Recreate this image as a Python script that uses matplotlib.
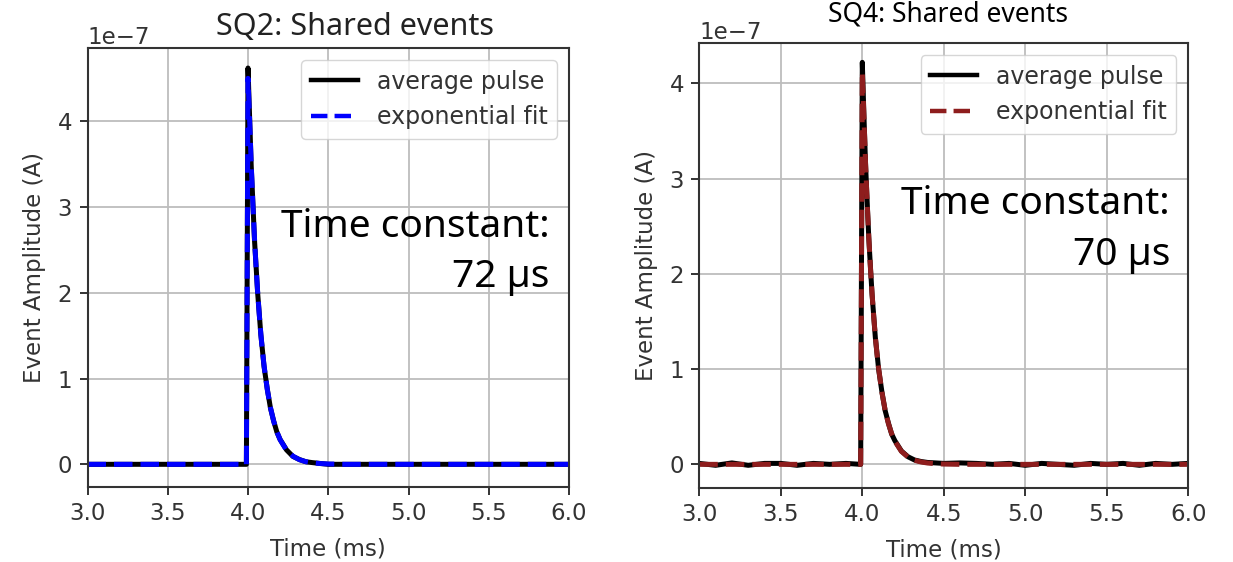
import numpy as np
import matplotlib
matplotlib.use("Agg")
import matplotlib.pyplot as plt

# time axis (ms), shared by both panels
time_ms = [3.0, 3.1, 3.2, 3.3, 3.4, 3.5, 3.6, 3.7, 3.8, 3.9, 3.99,
           4.0, 4.01, 4.02, 4.03, 4.04, 4.05, 4.06, 4.07, 4.08, 4.09, 4.1,
           4.12, 4.14, 4.16, 4.18, 4.2,
           4.24, 4.28, 4.32, 4.36, 4.4,
           4.45, 4.5,
           4.6, 4.7, 4.8, 4.9, 5.0, 5.1, 5.2, 5.3, 5.4, 5.5, 5.6, 5.7, 5.8, 5.9, 6.0]

# amplitudes in units of 1e-7 A
sq2_pulse = [0.0, 0.0, 0.0, 0.0, 0.0, 0.0, 0.0, 0.0, 0.0, 0.0, 0.0,
             4.62, 4.05, 3.48, 3.07, 2.63, 2.32, 2.0, 1.76, 1.51, 1.33, 1.14,
             0.88, 0.655, 0.505, 0.375, 0.29,
             0.168, 0.092, 0.056, 0.03, 0.02,
             0.01, 0.0,
             0.0, 0.0, 0.0, 0.0, 0.0, 0.0, 0.0, 0.0, 0.0, 0.0, 0.0, 0.0, 0.0, 0.0, 0.0]
sq2_fit = [0.0, 0.0, 0.0, 0.0, 0.0, 0.0, 0.0, 0.0, 0.0, 0.0, 0.0,
           4.5, 4.02, 3.5, 3.05, 2.65, 2.31, 2.01, 1.75, 1.52, 1.32, 1.15,
           0.873, 0.661, 0.501, 0.379, 0.287,
           0.165, 0.095, 0.054, 0.031, 0.018,
           0.009, 0.004,
           0.0, 0.0, 0.0, 0.0, 0.0, 0.0, 0.0, 0.0, 0.0, 0.0, 0.0, 0.0, 0.0, 0.0, 0.0]

sq4_pulse = [0.01, -0.01, 0.015, -0.01, 0.01, 0.01, -0.01, 0.01, 0.0, 0.01, 0.0,
             4.22, 3.66, 3.15, 2.75, 2.37, 2.07, 1.78, 1.56, 1.33, 1.17, 1.0,
             0.765, 0.565, 0.435, 0.318, 0.248,
             0.14, 0.08, 0.046, 0.03, 0.02,
             0.015, 0.01,
             0.015, 0.01, 0.0, 0.01, -0.01, 0.01, 0.0, -0.01, 0.01, 0.0, 0.01, -0.01, 0.01, 0.0, 0.01]
sq4_fit = [0.0, 0.0, 0.0, 0.0, 0.0, 0.0, 0.0, 0.0, 0.0, 0.0, 0.0,
           4.12, 3.65, 3.16, 2.74, 2.38, 2.06, 1.79, 1.55, 1.34, 1.16, 1.01,
           0.758, 0.57, 0.428, 0.322, 0.242,
           0.136, 0.077, 0.043, 0.025, 0.014,
           0.007, 0.003,
           0.0, 0.0, 0.0, 0.0, 0.0, 0.0, 0.0, 0.0, 0.0, 0.0, 0.0, 0.0, 0.0, 0.0, 0.0]

x_ticks = [3.0, 3.5, 4.0, 4.5, 5.0, 5.5, 6.0]
y_ticks = [0, 1, 2, 3, 4]

W, H = 1233, 562
fig = plt.figure(figsize=(W / 100, H / 100), dpi=100)


def px_axes(left, top, right, bottom):
    return fig.add_axes([left / W, 1 - bottom / H, (right - left) / W, (bottom - top) / H])


def draw_panel(ax, pulse, fit, fit_color, ylim):
    t = np.array(time_ms)
    ax.plot(t, np.array(pulse) * 1e-7, color="black", lw=3.6, label="average pulse")
    ax.plot(t, np.array(fit) * 1e-7, color=fit_color, lw=3.6, ls="--", label="exponential fit")
    ax.set_xlim(3.0, 6.0)
    ax.set_ylim(ylim[0] * 1e-7, ylim[1] * 1e-7)
    ax.set_xticks(x_ticks)
    ax.set_yticks(np.array(y_ticks) * 1e-7)
    ax.grid(True, color="#bdbdbd", lw=1.3)
    ax.set_axisbelow(True)
    for s in ax.spines.values():
        s.set_linewidth(1.5)
        s.set_color("#333333")
    ax.tick_params(labelsize=16.5, colors="#333333", length=6, width=1.4, pad=5)
    ax.yaxis.get_offset_text().set_fontsize(16.5)
    ax.yaxis.get_offset_text().set_color("#333333")
    ax.set_xlabel("Time (ms)", fontsize=16.5, color="#333333", labelpad=9)
    ax.set_ylabel("Event Amplitude (A)", fontsize=16.5, color="#333333", labelpad=8)
    leg = ax.legend(loc="upper right", fontsize=17, handlelength=2.0,
                    labelcolor="#333333", borderaxespad=0.5)
    for line in leg.get_lines():
        line.set_linewidth(3.2)


ax1 = px_axes(87.5, 48.3, 569, 486.7)
draw_panel(ax1, sq2_pulse, sq2_fit, "blue", (-0.261, 4.85))

ax2 = px_axes(699.3, 43.3, 1188.3, 487.5)
draw_panel(ax2, sq4_pulse, sq4_fit, "#8e1d1d", (-0.243, 4.42))

# titles (pasted text in the original slide)
fig.text(355 / W, 1 - 35 / H, "SQ2: Shared events", ha="center", va="baseline",
         fontsize=22, family="Noto Sans", color="#222222")
fig.text(948 / W, 1 - 22 / H, "SQ4: Shared events", ha="center", va="baseline",
         fontsize=19, family="Noto Sans", color="black")

# annotations
fig.text(549.5 / W, 1 - 237.5 / H, "Time constant:", ha="right", va="baseline",
         fontsize=28, family="Noto Sans", color="black")
fig.text(549.5 / W, 1 - 287 / H, "72 µs", ha="right", va="baseline",
         fontsize=28, family="Noto Sans", color="black")
fig.text(1170 / W, 1 - 214.5 / H, "Time constant:", ha="right", va="baseline",
         fontsize=28, family="Noto Sans", color="black")
fig.text(1170 / W, 1 - 264.5 / H, "70 µs", ha="right", va="baseline",
         fontsize=28, family="Noto Sans", color="black")

fig.savefig("out.png", dpi=100)
